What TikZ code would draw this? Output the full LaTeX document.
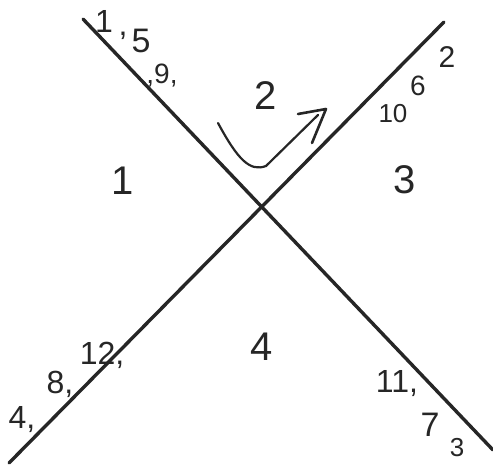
\documentclass[tikz,border=0pt]{standalone}
\usepackage{fontspec}
\setmainfont{Liberation Sans}
\usetikzlibrary{arrows.meta}
\begin{document}
\begin{tikzpicture}[x=1pt,y=-1pt,
  ink/.style={draw=black!85,line width=3.4pt,line cap=round},
  hand/.style={text=black!85,inner sep=0pt,font=\fontsize{#1}{#1}\selectfont},
  hand/.default=30]
\useasboundingbox (0,0) rectangle (493,466);
\clip (0,0) rectangle (493,466);
% line ends
\coordinate (a1) at (83,19);
\coordinate (a2) at (493,450);
\coordinate (b1) at (9,463);
\coordinate (b2) at (444,22);
\draw[ink] (a1) -- (a2);
\draw[ink] (b1) -- (b2);
% curved arrow
\coordinate (c1) at (218,123);
\coordinate (c2) at (318,115);
\draw[ink,line width=2.2pt] (c1) .. controls (238,160) and (250,172) .. (266,166) -- (c2);
\coordinate (t1) at (298,114);
\coordinate (t2) at (326,109);
\coordinate (t3) at (312,143);
\draw[ink,line width=2.6pt,line join=round] (t1) -- (t2) -- (t3);
% region labels
\node[hand=40] (r1) at (123,181) {1};
\node[hand=40] (r2) at (266,96) {2};
\node[hand=40] (r3) at (405,180) {3};
\node[hand=40] (r4) at (262,347) {4};
% labels along the lines
\node[hand=32] (l1) at (104,21) {1};
\node[hand=32] (lc) at (123,36) {,};
\node[hand=34] (l5) at (141,41) {5};
\node[hand=28] (l9) at (162,76) {,9,};
\node[hand=30] (e2) at (447,57) {2};
\node[hand=28] (e6) at (418,86) {6};
\node[hand=26] (e10) at (393,114) {10};
\node[hand=32] (e4) at (22,420) {4,};
\node[hand=32] (e8) at (60,384) {8,};
\node[hand=32] (e12) at (102,355) {12,};
\node[hand=32] (e11) at (397,384) {11,};
\node[hand=34] (e7) at (430,425) {7};
\node[hand=26] (e3) at (457,448) {3};
\end{tikzpicture}
\end{document}
